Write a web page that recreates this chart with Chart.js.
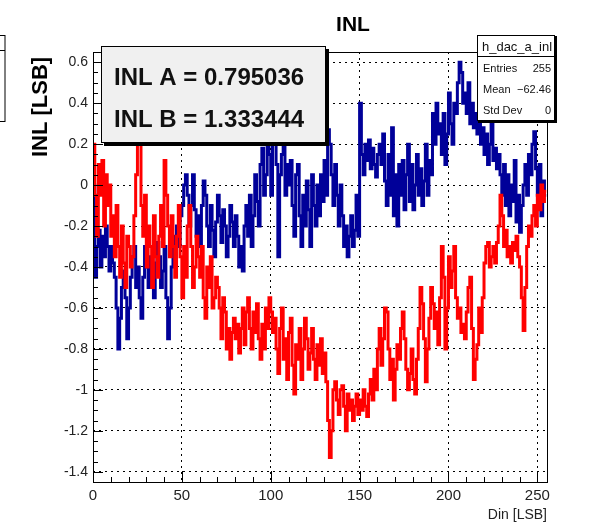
<!DOCTYPE html>
<html>
<head>
<meta charset="utf-8">
<title>INL</title>
<script src="https://cdn.jsdelivr.net/npm/chart.js@4.4.1/dist/chart.umd.min.js"></script>
<style>
  html, body { margin: 0; padding: 0; background: #fff; }
  #inlChart { display: block; }
</style>
</head>
<body>
<canvas id="inlChart" width="603" height="526"></canvas>
<script>
// INL per input code (LSB), DAC channel A
const inlA = [
     0.00, -0.45, -0.30, -0.22, -0.40, -0.25, -0.35, -0.20, -0.30, -0.42,
    -0.30, -0.38, -0.45, -0.60, -0.80, -0.65, -0.50, -0.42, -0.55, -0.75,
    -0.60, -0.45, -0.35, -0.30, -0.50, -0.40, -0.55, -0.65, -0.45, -0.30,
    -0.40, -0.50, -0.35, -0.45, -0.55, -0.38, -0.28, -0.35, -0.50, -0.42,
    -0.30, -0.55, -0.75, -0.60, -0.40, -0.25, -0.35, -0.20, -0.30, -0.15,
    -0.10,  0.00,  0.05, -0.05, -0.20, -0.10,  0.05, -0.12, -0.25, -0.15,
    -0.30, -0.10,  0.02, -0.05, -0.20, -0.30, -0.10, -0.22, -0.35, -0.18,
    -0.05, -0.15, -0.28, -0.12, -0.20, -0.35, -0.25, -0.10, -0.18, -0.30,
    -0.15, -0.25, -0.40, -0.30, -0.42, -0.20, -0.10, -0.25, -0.05, -0.30,
    -0.15,  0.05, -0.08, -0.20,  0.10,  0.18, -0.05,  0.05,  0.25,  0.15,
    -0.05,  0.30,  0.20,  0.10, -0.35,  0.05,  0.15,  0.20, -0.05,  0.10,
     0.00,  0.12, -0.10, -0.25,  0.05,  0.10, -0.15, -0.30, -0.05, -0.20,
     0.02, -0.12, -0.30,  0.05, -0.10, -0.20,  0.00, -0.15,  0.05, -0.08,
     0.12, -0.05,  0.27,  0.20,  0.05, -0.10,  0.10, -0.05, -0.20,  0.00,
    -0.15, -0.30, -0.20, -0.35, -0.25, -0.15, -0.30, -0.22, -0.05, -0.25,
     0.40,  0.15,  0.05,  0.20,  0.12,  0.22,  0.08,  0.18,  0.10,  0.04,
     0.15,  0.20,  0.10,  0.25,  0.02, -0.10,  0.15, -0.05,  0.28, -0.15,
     0.05, -0.20,  0.10, -0.05,  0.12, -0.12,  0.05,  0.20, -0.08,  0.10,
    -0.12,  0.00,  0.15, -0.05,  0.08, -0.10,  0.02,  0.20, -0.05,  0.12,
     0.05,  0.35,  0.20,  0.40,  0.25,  0.30,  0.15,  0.35,  0.10,  0.25,
     0.45,  0.30,  0.20,  0.40,  0.35,  0.50,  0.60,  0.55,  0.40,  0.45,
     0.35,  0.50,  0.30,  0.40,  0.28,  0.35,  0.25,  0.30,  0.20,  0.28,
     0.15,  0.25,  0.10,  0.20,  0.30,  0.12,  0.18,  0.08,  0.15,  0.05,
    -0.05,  0.10, -0.10,  0.05, -0.15,  0.00, -0.08,  0.12, -0.18, -0.05,
    -0.23, -0.10,  0.00,  0.10, -0.05,  0.15,  0.05,  0.20,  0.26,  0.08,
    -0.05,  0.10, -0.15,  0.02, -0.05
];

// INL per input code (LSB), DAC channel B
const inlB = [
     0.20, -0.05, -0.25,  0.10, -0.05,  0.12, -0.20,  0.05, -0.10,  0.00,
    -0.25, -0.15, -0.35, -0.10, -0.30, -0.45, -0.20, -0.38, -0.50, -0.25,
    -0.30, -0.40, -0.35, -0.15,  0.05,  0.20,  0.20, -0.10, -0.25, -0.05,
    -0.40, -0.20, -0.30, -0.50, -0.15, -0.35, -0.45, -0.25, -0.10, -0.30,
     0.12, -0.05, -0.20, -0.35, -0.15, -0.30, -0.45, -0.25, -0.10, -0.35,
    -0.55, -0.30, -0.45, -0.20, -0.10, -0.30, -0.50, -0.40, -0.25, -0.35,
    -0.45, -0.30, -0.55, -0.65, -0.40, -0.50, -0.35, -0.60, -0.55, -0.45,
    -0.50, -0.60, -0.75, -0.55, -0.62, -0.80, -0.70, -0.85, -0.72, -0.65,
    -0.75, -0.68, -0.82, -0.70, -0.60, -0.78, -0.62, -0.55, -0.70, -0.80,
    -0.62, -0.72, -0.58, -0.75, -0.85, -0.68, -0.80, -0.60, -0.70, -0.55,
    -0.62, -0.72, -0.65, -0.80, -0.92, -0.70, -0.60, -0.85, -0.75, -0.95,
    -0.72, -0.65, -0.88, -1.02, -0.78, -0.85, -0.70, -0.95, -0.80, -0.65,
    -0.75, -0.90, -0.82, -0.70, -0.85, -0.95, -0.78, -0.88, -0.75, -0.92,
    -0.82, -0.96, -1.15, -1.33, -1.20, -1.00, -0.96, -1.05, -1.12, -1.00,
    -0.98, -1.08, -1.20, -1.02, -1.10, -1.05, -1.15, -1.08, -1.02, -1.12,
    -1.05, -1.10, -1.00, -1.08, -1.13, -1.02, -0.95, -1.05, -0.90, -1.00,
    -0.80, -0.70, -0.88, -0.75, -0.60, -0.62, -0.80, -0.95, -0.85, -1.05,
    -0.90, -0.78, -0.85, -0.70, -0.62, -0.75, -0.90, -1.00, -0.92, -0.80,
    -0.95, -1.02, -0.85, -0.70, -0.50, -0.58, -0.75, -0.96, -0.80, -0.65,
    -0.50, -0.58, -0.70, -0.62, -0.78, -0.55, -0.30, -0.45, -0.80, -0.60,
    -0.35, -0.50, -0.42, -0.30, -0.55, -0.65, -0.60, -0.72, -0.68, -0.75,
    -0.62, -0.50, -0.45, -0.70, -0.95, -0.85, -0.78, -0.60, -0.72, -0.55,
    -0.38, -0.30, -0.28, -0.40, -0.35, -0.30, -0.38, -0.28, -0.20, -0.05,
    -0.15, -0.30, -0.22, -0.35, -0.30, -0.38, -0.28, -0.32, -0.25, -0.35,
    -0.40, -0.55, -0.71, -0.50, -0.30, -0.20, -0.25, -0.15, -0.10, -0.20,
    -0.05, -0.12,  0.00, -0.08, -0.03
];

const xTicks = [0, 50, 100, 150, 200, 250];
const yTicks = [0.6, 0.4, 0.2, 0, -0.2, -0.4, -0.6, -0.8, -1, -1.2, -1.4];

const inlSummary = ['INL A = 0.795036', 'INL B = 1.333444'];
const statsName = 'h_dac_a_inl';
const statsRows = [['Entries', '255'], ['Mean', '\u221262.46'], ['Std Dev', '0']];

const FONT = '"Liberation Sans", Arial, Helvetica, sans-serif';

// histogram outline: bin i spans [i, i+1], close the last bin explicitly
function toSteps(values) {
    const pts = values.map((v, i) => ({ x: i, y: v }));
    pts.push({ x: values.length, y: values[values.length - 1] });
    return pts;
}

// frame, inward tick marks (major + minor) on left and bottom axes
const frameTicks = {
    id: 'frameTicks',
    afterDatasetsDraw(chart) {
        const { ctx, chartArea: a, scales: { x, y } } = chart;
        ctx.save();
        ctx.strokeStyle = '#000';
        ctx.lineWidth = 1;
        ctx.strokeRect(a.left + 0.5, a.top + 0.5, a.right - a.left - 1, a.bottom - a.top - 1);
        ctx.beginPath();
        for (let v = 0; v <= 256; v += 10) {
            const px = Math.round(x.getPixelForValue(v)) + 0.5;
            const len = v % 50 === 0 ? 12 : 6;
            ctx.moveTo(px, a.bottom);
            ctx.lineTo(px, a.bottom - len);
        }
        for (let k = -29; k <= 13; k++) {
            const v = k * 0.05;
            if (v < y.min || v > y.max) continue;
            const py = Math.round(y.getPixelForValue(v)) + 0.5;
            const len = k % 4 === 0 ? 10 : 5;
            ctx.moveTo(a.left, py);
            ctx.lineTo(a.left + len, py);
        }
        ctx.stroke();
        ctx.restore();
    }
};

// titles, summary pave and stats box
const annotations = {
    id: 'annotations',
    afterDraw(chart) {
        const ctx = chart.ctx;
        ctx.save();

        ctx.fillStyle = '#000';
        ctx.textAlign = 'center';
        ctx.textBaseline = 'alphabetic';
        ctx.font = 'bold 21px ' + FONT;
        ctx.fillText('INL', 353, 31);

        ctx.save();
        ctx.translate(47, 107);
        ctx.rotate(-Math.PI / 2);
        ctx.font = 'bold 22px ' + FONT;
        ctx.fillText('INL [LSB]', 0, 0);
        ctx.restore();

        ctx.textAlign = 'right';
        ctx.font = '14px ' + FONT;
        ctx.fillStyle = '#222';
        ctx.fillText('Din [LSB]', 547, 519);

        // summary pave with shadow
        ctx.fillStyle = '#000';
        ctx.fillRect(104, 49, 225, 97);
        ctx.fillStyle = '#f0f0f0';
        ctx.fillRect(101, 46, 225, 97);
        ctx.strokeStyle = '#000';
        ctx.lineWidth = 1;
        ctx.strokeRect(101.5, 46.5, 224, 96);
        ctx.fillStyle = '#111';
        ctx.textAlign = 'left';
        ctx.font = 'bold 24px ' + FONT;
        ctx.fillText(inlSummary[0], 114, 85);
        ctx.fillText(inlSummary[1], 114, 127);

        // stats box
        ctx.fillStyle = '#000';
        ctx.fillRect(478, 36, 79, 87);
        ctx.fillStyle = '#fff';
        ctx.fillRect(477, 35, 78, 86);
        ctx.strokeRect(477.5, 35.5, 77, 85);
        ctx.beginPath();
        ctx.moveTo(477, 56.5);
        ctx.lineTo(555, 56.5);
        ctx.stroke();
        ctx.fillStyle = '#111';
        ctx.textAlign = 'center';
        ctx.font = '13px ' + FONT;
        ctx.fillText(statsName, 517, 51);
        ctx.font = '11px ' + FONT;
        statsRows.forEach((row, i) => {
            const by = 72 + i * 21;
            ctx.textAlign = 'left';
            ctx.fillText(row[0], 483, by);
            ctx.textAlign = 'right';
            ctx.fillText(row[1], 551, by);
        });

        // edge of a neighbouring stats box
        ctx.fillStyle = '#fff';
        ctx.fillRect(-10, 35, 15, 87);
        ctx.strokeRect(-10, 35.5, 15, 86);
        ctx.beginPath();
        ctx.moveTo(0, 50.5);
        ctx.lineTo(5, 50.5);
        ctx.stroke();

        ctx.restore();
    }
};

new Chart(document.getElementById('inlChart'), {
    type: 'line',
    data: {
        datasets: [
            {
                label: 'INL B',
                data: toSteps(inlB),
                borderColor: '#ff0000',
                borderWidth: 3,
                stepped: 'before',
                pointRadius: 0,
                fill: false,
                order: 0
            },
            {
                label: 'INL A',
                data: toSteps(inlA),
                borderColor: '#000099',
                borderWidth: 3,
                stepped: 'before',
                pointRadius: 0,
                fill: false,
                order: 1
            }
        ]
    },
    options: {
        responsive: false,
        animation: false,
        parsing: false,
        layout: { padding: { left: 0, top: 52, right: 55, bottom: 0 } },
        plugins: {
            legend: { display: false },
            tooltip: { enabled: false },
            title: { display: false }
        },
        scales: {
            x: {
                type: 'linear',
                min: 0,
                max: 256,
                afterFit(scale) { scale.height = 43; },
                afterBuildTicks(scale) { scale.ticks = xTicks.map(v => ({ value: v })); },
                ticks: {
                    padding: 4,
                    color: '#222',
                    font: { family: FONT, size: 15 },
                    maxRotation: 0,
                    callback: v => String(v)
                },
                grid: { color: '#000', lineWidth: 1, drawTicks: false },
                border: { display: false, dash: [2, 4] }
            },
            y: {
                type: 'linear',
                min: -1.455,
                max: 0.65,
                afterFit(scale) { scale.width = 93; },
                afterBuildTicks(scale) { scale.ticks = yTicks.map(v => ({ value: v })); },
                ticks: {
                    padding: 5,
                    color: '#222',
                    font: { family: FONT, size: 14 },
                    callback: v => String(Number(v.toFixed(1)))
                },
                grid: { color: '#000', lineWidth: 1, drawTicks: false },
                border: { display: false, dash: [2, 4] }
            }
        }
    },
    plugins: [frameTicks, annotations]
});
</script>
</body>
</html>
